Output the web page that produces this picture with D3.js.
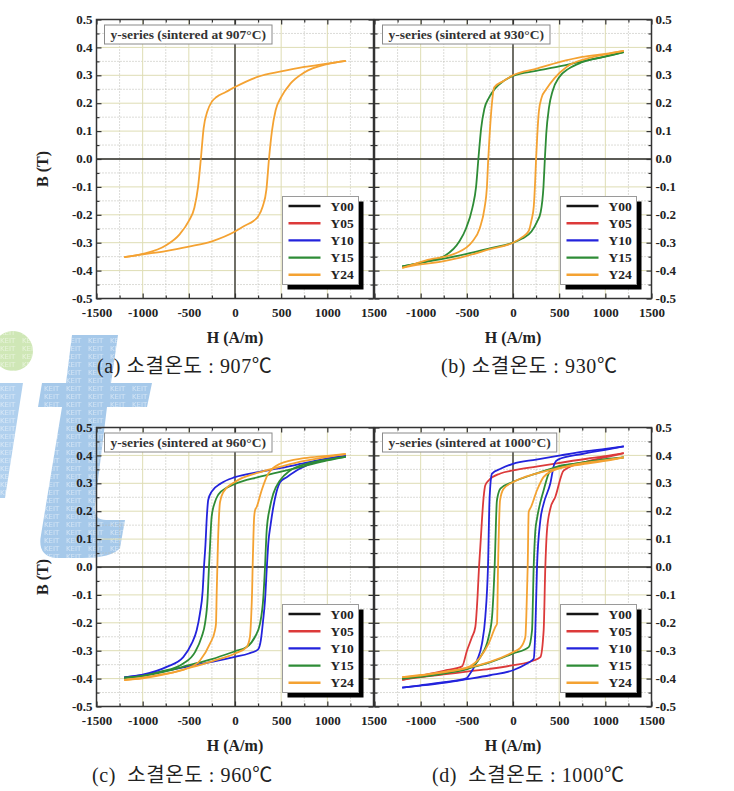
<!DOCTYPE html>
<html>
<head>
<meta charset="utf-8">
<script src="https://cdn.jsdelivr.net/npm/d3@7"></script>
<style>
body { margin: 0; background: #fff; }
svg { display: block; }
</style>
</head>
<body>
<svg id="chart" width="734" height="791"></svg>
<script>
var seriesNames = ["Y00", "Y05", "Y10", "Y15", "Y24"];
var seriesColors = ["#151515", "#dc3a3a", "#2323dc", "#2e8c36", "#f4a232"];
var hTicks = [-1500, -1000, -500, 0, 500, 1000, 1500];
var hMinor = [-1250, -750, -250, 250, 750, 1250];
var bTicks = [-0.5, -0.4, -0.3, -0.2, -0.1, 0, 0.1, 0.2, 0.3, 0.4, 0.5];
var bMinor = [-0.45, -0.35, -0.25, -0.15, -0.05, 0.05, 0.15, 0.25, 0.35, 0.45];
var temps = ["907", "930", "960", "1000"];
var captions = ["(a) 소결온도 : 907℃", "(b) 소결온도 : 930℃", "(c)  소결온도 : 960℃", "(d)  소결온도 : 1000℃"];

// [H (A/m), B (T)] -- upper = descending branch, lower = ascending branch
// 907 C : only Y24 is visible
var s907_Y24_upper = [[-1200,-0.352],[-1000,-0.34],[-750,-0.31],[-600,-0.27],[-500,-0.222],[-440,-0.175],[-400,-0.10],[-370,0],[-340,0.11],[-300,0.17],[-250,0.206],[-200,0.222],[-100,0.24],[0,0.258],[250,0.295],[500,0.314],[750,0.33],[1000,0.342],[1200,0.352]];
var s907_Y24_lower = [[-1200,-0.352],[-1000,-0.342],[-750,-0.33],[-500,-0.314],[-250,-0.295],[0,-0.26],[100,-0.24],[200,-0.222],[250,-0.206],[300,-0.17],[340,-0.11],[368,0],[400,0.10],[440,0.175],[500,0.222],[600,0.27],[750,0.31],[1000,0.34],[1200,0.352]];

// 930 C
var s930_Y15_upper = [[-1200,-0.385],[-950,-0.368],[-730,-0.345],[-580,-0.295],[-510,-0.25],[-440,-0.175],[-400,-0.10],[-375,0],[-345,0.11],[-310,0.18],[-260,0.22],[-200,0.25],[-100,0.28],[0,0.298],[250,0.316],[500,0.332],[750,0.35],[1000,0.367],[1200,0.383]];
var s930_Y15_lower = [[-1200,-0.385],[-1000,-0.372],[-750,-0.357],[-500,-0.34],[-250,-0.32],[0,-0.30],[100,-0.285],[200,-0.26],[260,-0.225],[300,-0.19],[330,-0.10],[345,0],[360,0.09],[390,0.185],[430,0.245],[500,0.293],[600,0.323],[750,0.347],[1000,0.368],[1200,0.383]];
var s930_Y24_upper = [[-1200,-0.39],[-950,-0.364],[-620,-0.338],[-440,-0.296],[-360,-0.248],[-308,-0.175],[-283,-0.103],[-268,0],[-257,0.065],[-235,0.173],[-203,0.257],[-100,0.28],[0,0.30],[250,0.323],[500,0.347],[750,0.366],[1000,0.377],[1200,0.388]];
var s930_Y24_lower = [[-1200,-0.39],[-1000,-0.378],[-750,-0.366],[-500,-0.347],[-250,-0.323],[0,-0.30],[100,-0.28],[170,-0.258],[200,-0.22],[225,-0.17],[240,-0.08],[250,0],[262,0.08],[280,0.17],[310,0.22],[360,0.25],[450,0.29],[580,0.33],[800,0.36],[1000,0.375],[1200,0.388]];

// 960 C
var s960_Y10_upper = [[-1200,-0.396],[-1000,-0.386],[-740,-0.358],[-560,-0.323],[-470,-0.275],[-415,-0.227],[-380,-0.167],[-350,-0.085],[-336,0],[-320,0.08],[-305,0.18],[-290,0.24],[-253,0.27],[-150,0.30],[0,0.322],[250,0.34],[500,0.355],[750,0.372],[1000,0.388],[1200,0.398]];
var s960_Y10_lower = [[-1200,-0.396],[-1000,-0.387],[-750,-0.372],[-500,-0.356],[-250,-0.34],[0,-0.322],[150,-0.31],[250,-0.295],[280,-0.262],[305,-0.19],[325,-0.12],[345,0],[362,0.09],[385,0.15],[415,0.215],[450,0.27],[490,0.305],[560,0.322],[700,0.352],[880,0.378],[1200,0.398]];
var s960_Y15_upper = [[-1200,-0.397],[-1000,-0.39],[-812,-0.376],[-560,-0.346],[-433,-0.305],[-361,-0.25],[-325,-0.203],[-296,-0.108],[-282,0],[-271,0.072],[-253,0.18],[-217,0.233],[-180,0.26],[-100,0.282],[0,0.298],[250,0.322],[500,0.342],[750,0.362],[1000,0.382],[1200,0.395]];
var s960_Y15_lower = [[-1200,-0.397],[-1000,-0.39],[-750,-0.374],[-500,-0.352],[-250,-0.33],[0,-0.302],[126,-0.287],[217,-0.25],[271,-0.203],[307,-0.108],[325,0],[343,0.131],[379,0.215],[415,0.263],[487,0.31],[596,0.346],[776,0.37],[1000,0.385],[1200,0.395]];
var s960_Y24_upper = [[-1200,-0.405],[-1000,-0.397],[-812,-0.386],[-523,-0.364],[-379,-0.335],[-271,-0.275],[-217,-0.227],[-206,-0.203],[-198,-0.09],[-191,0],[-185,0.08],[-175,0.17],[-162,0.233],[-126,0.269],[0,0.305],[250,0.338],[500,0.36],[750,0.38],[1000,0.395],[1200,0.405]];
var s960_Y24_lower = [[-1200,-0.405],[-1000,-0.399],[-750,-0.384],[-500,-0.362],[-250,-0.338],[0,-0.31],[126,-0.287],[162,-0.25],[175,-0.18],[185,-0.09],[191,0],[198,0.09],[206,0.17],[217,0.203],[235,0.215],[289,0.275],[361,0.335],[487,0.37],[750,0.39],[1000,0.398],[1200,0.405]];

// 1000 C
var s1000_Y05_upper = [[-1200,-0.405],[-1000,-0.39],[-750,-0.372],[-552,-0.356],[-498,-0.299],[-444,-0.251],[-408,-0.215],[-383,-0.1],[-368,0],[-354,0.072],[-318,0.251],[-300,0.293],[-264,0.31],[-137,0.335],[0,0.346],[250,0.36],[440,0.37],[800,0.388],[1000,0.397],[1200,0.408]];
var s1000_Y05_lower = [[-1200,-0.405],[-1000,-0.395],[-750,-0.385],[-500,-0.375],[-250,-0.365],[0,-0.352],[224,-0.335],[296,-0.323],[332,-0.227],[350,0],[368,0.131],[404,0.209],[458,0.251],[549,0.346],[800,0.378],[1000,0.393],[1200,0.408]];
var s1000_Y10_upper = [[-1200,-0.432],[-1000,-0.424],[-750,-0.413],[-500,-0.398],[-480,-0.39],[-390,-0.335],[-336,-0.275],[-300,-0.179],[-271,0],[-253,0.251],[-227,0.335],[-135,0.352],[0,0.37],[250,0.385],[515,0.40],[800,0.415],[1000,0.423],[1200,0.432]];
var s1000_Y10_lower = [[-1200,-0.432],[-1000,-0.425],[-750,-0.415],[-500,-0.402],[-250,-0.388],[0,-0.37],[152,-0.346],[224,-0.329],[242,-0.227],[260,0],[296,0.167],[332,0.227],[404,0.299],[448,0.37],[487,0.385],[750,0.405],[1000,0.42],[1200,0.432]];
var s1000_Y15_upper = [[-1200,-0.40],[-1000,-0.392],[-750,-0.38],[-480,-0.364],[-354,-0.323],[-264,-0.251],[-227,-0.179],[-199,0],[-175,0.235],[-160,0.262],[-137,0.281],[0,0.305],[250,0.335],[480,0.358],[750,0.375],[1000,0.387],[1200,0.393]];
var s1000_Y15_lower = [[-1200,-0.40],[-1000,-0.394],[-750,-0.382],[-500,-0.364],[-250,-0.342],[0,-0.31],[170,-0.287],[206,-0.227],[224,0],[242,0.131],[260,0.173],[332,0.275],[404,0.346],[495,0.362],[750,0.372],[1000,0.383],[1200,0.393]];
var s1000_Y24_upper = [[-1200,-0.395],[-1000,-0.387],[-750,-0.376],[-480,-0.358],[-354,-0.323],[-264,-0.275],[-191,-0.215],[-173,-0.203],[-162,0],[-140,0.24],[-101,0.281],[0,0.304],[250,0.335],[500,0.355],[750,0.372],[1000,0.383],[1200,0.393]];
var s1000_Y24_lower = [[-1200,-0.395],[-1000,-0.389],[-750,-0.378],[-500,-0.362],[-250,-0.34],[0,-0.305],[79,-0.29],[134,-0.251],[144,-0.179],[159,0],[170,0.197],[195,0.215],[260,0.275],[332,0.323],[440,0.346],[750,0.368],[1000,0.38],[1200,0.393]];

var panelLoops = [
    [{ name: "Y24", upper: s907_Y24_upper, lower: s907_Y24_lower }],
    [{ name: "Y15", upper: s930_Y15_upper, lower: s930_Y15_lower },
     { name: "Y24", upper: s930_Y24_upper, lower: s930_Y24_lower }],
    [{ name: "Y10", upper: s960_Y10_upper, lower: s960_Y10_lower },
     { name: "Y15", upper: s960_Y15_upper, lower: s960_Y15_lower },
     { name: "Y24", upper: s960_Y24_upper, lower: s960_Y24_lower }],
    [{ name: "Y05", upper: s1000_Y05_upper, lower: s1000_Y05_lower },
     { name: "Y10", upper: s1000_Y10_upper, lower: s1000_Y10_lower },
     { name: "Y15", upper: s1000_Y15_upper, lower: s1000_Y15_lower },
     { name: "Y24", upper: s1000_Y24_upper, lower: s1000_Y24_lower }]
];

var W = 277, H = 279;
var panels = [
    { left: 96.5, top: 19.5, side: "left", capX: 97, capY: 373 },
    { left: 374.5, top: 19.5, side: "right", capX: 441, capY: 373 },
    { left: 96.5, top: 427.5, side: "left", capX: 92, capY: 782 },
    { left: 374.5, top: 427.5, side: "right", capX: 432, capY: 782 }
];

var serif = "'Liberation Serif', 'Times New Roman', serif";
var color = d3.scaleOrdinal().domain(seriesNames).range(seriesColors);

var svg = d3.select("#chart");

// KEIT watermark behind the charts
var defs = svg.append("defs");
var pat = defs.append("pattern").attr("id", "keit").attr("patternUnits", "userSpaceOnUse")
    .attr("width", 22).attr("height", 8);
pat.append("text").attr("x", 0).attr("y", 7).attr("font-family", "'DejaVu Sans', sans-serif")
    .attr("font-size", 7).attr("fill", "#fff").attr("fill-opacity", 0.5).text("KEIT");

var wm = svg.append("g").attr("class", "watermark");
var wmShapes = [
    { d: "M13,331 A20,20 0 1,1 12.9,331 Z", fill: "#cfe7b6" },
    { d: "M-10,383 L23,383 L5,498 L-10,498 Z", fill: "#b0d0ee" },
    { d: "M72,335 L118,335 L111,383 L152,383 L147,407 L107,407 L95,505 Q93,520 106,520 L125,520 L120,548 Q112,558 82,558 L56,558 Q37,556 41,535 L62,407 L38,407 L42,383 L66,383 Z", fill: "#a6c9ea" }
];
wmShapes.forEach(function(s) {
    wm.append("path").attr("d", s.d).attr("fill", s.fill);
    wm.append("path").attr("d", s.d).attr("fill", "url(#keit)");
});

var x = d3.scaleLinear().domain([-1500, 1500]).range([0, W]);
var y = d3.scaleLinear().domain([-0.5, 0.5]).range([H, 0]);

var line = d3.line()
    .x(function(d) { return x(d[0]); })
    .y(function(d) { return y(d[1]); })
    .curve(d3.curveMonotoneX);

panels.forEach(function(p, i) {
    var g = svg.append("g").attr("transform", "translate(" + p.left + "," + p.top + ")");

    // minor grid (dotted)
    g.append("g").selectAll("line").data(hMinor).join("line")
        .attr("x1", function(d) { return x(d); }).attr("x2", function(d) { return x(d); })
        .attr("y1", 0).attr("y2", H)
        .attr("stroke", "#b8b8b0").attr("stroke-dasharray", "1,2");
    g.append("g").selectAll("line").data(bMinor).join("line")
        .attr("y1", function(d) { return y(d); }).attr("y2", function(d) { return y(d); })
        .attr("x1", 0).attr("x2", W)
        .attr("stroke", "#b8b8b0").attr("stroke-dasharray", "1,2");
    // major grid
    g.append("g").selectAll("line").data(hTicks).join("line")
        .attr("x1", function(d) { return x(d); }).attr("x2", function(d) { return x(d); })
        .attr("y1", 0).attr("y2", H)
        .attr("stroke", "#deddb4");
    g.append("g").selectAll("line").data(bTicks).join("line")
        .attr("y1", function(d) { return y(d); }).attr("y2", function(d) { return y(d); })
        .attr("x1", 0).attr("x2", W)
        .attr("stroke", "#deddb4");

    // zero lines
    g.append("line").attr("x1", x(0)).attr("x2", x(0)).attr("y1", 0).attr("y2", H)
        .attr("stroke", "#2a2a2a").attr("stroke-width", 1.3);
    g.append("line").attr("x1", 0).attr("x2", W).attr("y1", y(0)).attr("y2", y(0))
        .attr("stroke", "#2a2a2a").attr("stroke-width", 1.3);

    // inward ticks on all four sides
    function ticks(axis, tx, ty, vals, size) {
        var a = g.append("g").attr("transform", "translate(" + tx + "," + ty + ")")
            .call(axis.tickValues(vals).tickSize(-size).tickFormat(""));
        a.select(".domain").remove();
        a.selectAll("line").attr("stroke", "#333").attr("stroke-width", 1.2);
    }
    ticks(d3.axisBottom(x), 0, H, hTicks, 5);
    ticks(d3.axisBottom(x), 0, H, hMinor, 3);
    ticks(d3.axisTop(x), 0, 0, hTicks, 5);
    ticks(d3.axisTop(x), 0, 0, hMinor, 3);
    ticks(d3.axisLeft(y), 0, 0, bTicks, 5);
    ticks(d3.axisLeft(y), 0, 0, bMinor, 3);
    ticks(d3.axisRight(y), W, 0, bTicks, 5);
    ticks(d3.axisRight(y), W, 0, bMinor, 3);

    // tick labels
    var hLabels = p.side === "right" ? hTicks.filter(function(d) { return d !== -1500; }) : hTicks;
    var xa = g.append("g").attr("transform", "translate(0," + H + ")")
        .call(d3.axisBottom(x).tickValues(hLabels).tickSize(0).tickPadding(9)
            .tickFormat(function(d) { return String(d); }));
    xa.select(".domain").remove();
    xa.selectAll("text").attr("font-family", serif).attr("font-weight", "bold")
        .attr("font-size", 13).attr("fill", "#222");

    var yAxis = p.side === "left" ? d3.axisLeft(y) : d3.axisRight(y);
    var ya = g.append("g").attr("transform", "translate(" + (p.side === "left" ? 0 : W) + ",0)")
        .call(yAxis.tickValues(bTicks).tickSize(0).tickPadding(4)
            .tickFormat(function(d) { return d.toFixed(1); }));
    ya.select(".domain").remove();
    ya.selectAll("text").attr("font-family", serif).attr("font-weight", "bold")
        .attr("font-size", 13).attr("fill", "#222").attr("dy", "0.28em");

    // loops
    panelLoops[i].forEach(function(s) {
        [s.upper, s.lower].forEach(function(branch) {
            g.append("path").datum(branch)
                .attr("d", line)
                .attr("fill", "none")
                .attr("stroke", color(s.name))
                .attr("stroke-width", 1.8);
        });
    });

    // frame
    g.append("rect").attr("width", W).attr("height", H)
        .attr("fill", "none").attr("stroke", "#333").attr("stroke-width", 1.5);

    // title box
    var tb = g.append("g").attr("transform", "translate(8,5.5)");
    var tbRect = tb.append("rect").attr("height", 19).attr("fill", "#fff")
        .attr("stroke", "#8a8a8a").attr("stroke-width", 1);
    var tbText = tb.append("text").attr("x", 6).attr("y", 14)
        .attr("font-family", serif).attr("font-weight", "bold").attr("font-size", 13.5)
        .attr("fill", "#333")
        .text("y-series (sintered at " + temps[i] + "°C)");
    tbRect.attr("width", tbText.node().getComputedTextLength() + 12);

    // legend
    var lg = g.append("g").attr("transform", "translate(" + (W - 91) + "," + (H - 102) + ")");
    lg.append("rect").attr("x", 5).attr("y", 5).attr("width", 76).attr("height", 88).attr("fill", "#000");
    lg.append("rect").attr("width", 76).attr("height", 88).attr("fill", "#fff")
        .attr("stroke", "#9a9a9a").attr("stroke-width", 1);
    var rows = lg.selectAll("g.row").data(seriesNames).join("g")
        .attr("class", "row")
        .attr("transform", function(d, k) { return "translate(0," + (9.5 + k * 17.2) + ")"; });
    rows.append("line").attr("x1", 6).attr("x2", 38)
        .attr("stroke", function(d) { return color(d); }).attr("stroke-width", 2.4);
    rows.append("text").attr("x", 48).attr("y", 4.5)
        .attr("font-family", serif).attr("font-weight", "bold").attr("font-size", 13.5)
        .attr("fill", "#222").text(function(d) { return d; });

    // axis titles
    svg.append("text").attr("x", p.left + W / 2).attr("y", p.top + H + 44)
        .attr("text-anchor", "middle").attr("font-family", serif).attr("font-weight", "bold")
        .attr("font-size", 16).attr("fill", "#222").text("H (A/m)");
    if (p.side === "left") {
        svg.append("text")
            .attr("transform", "translate(48," + (p.top + H / 2 + 10) + ") rotate(-90)")
            .attr("text-anchor", "middle").attr("font-family", serif).attr("font-weight", "bold")
            .attr("font-size", 16).attr("fill", "#222").text("B (T)");
    }

    // caption
    svg.append("text").attr("x", p.capX).attr("y", p.capY)
        .attr("font-family", "'Liberation Serif', 'Noto Sans CJK KR', serif")
        .attr("font-size", 20).attr("letter-spacing", 0.6).attr("fill", "#222")
        .style("white-space", "pre")
        .text(captions[i]);
});
</script>
</body>
</html>
